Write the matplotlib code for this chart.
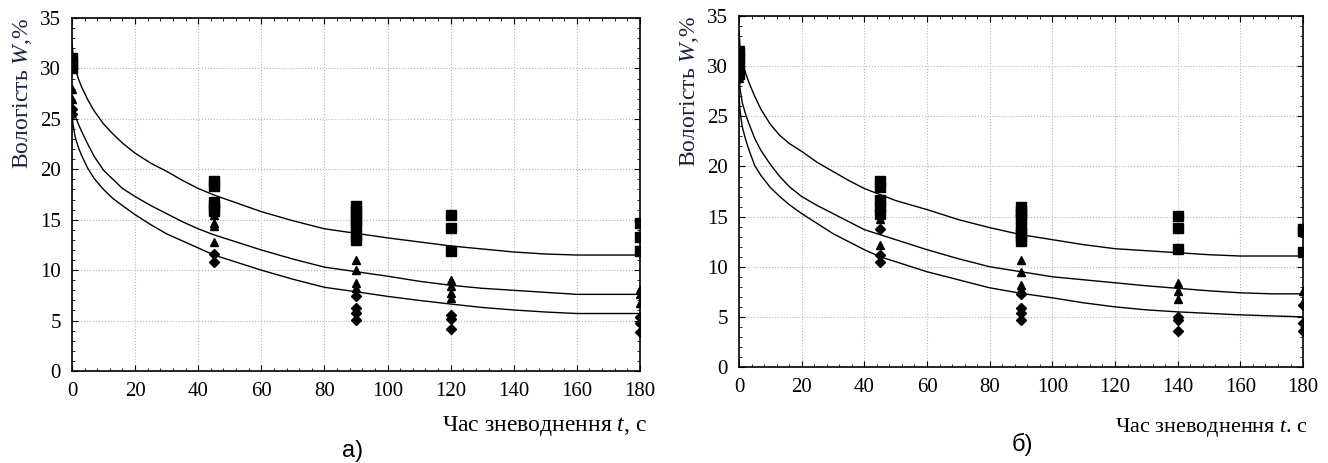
import matplotlib
matplotlib.use("Agg")
import matplotlib.pyplot as plt
from matplotlib.ticker import MultipleLocator

# ---- panel а) ----
a_curve_t = [0, 0.3, 1, 2, 3, 5, 7, 10, 13, 16, 20, 25, 30, 35, 40, 45, 50, 60, 70,
             80, 90, 100, 110, 120, 130, 140, 150, 160, 170, 180]
a_top = [32.5, 31.5, 30.0, 29.0, 28.2, 26.9, 25.8, 24.5, 23.5, 22.6, 21.6, 20.6, 19.8, 18.9,
         18.1, 17.45, 16.9, 15.8, 14.9, 14.1, 13.65, 13.2, 12.8, 12.4, 12.1, 11.8, 11.6, 11.5,
         11.5, 11.5]
a_mid = [27.0, 26.3, 25.3, 24.5, 23.8, 22.5, 21.3, 19.9, 19.0, 18.1, 17.3, 16.4, 15.6, 14.8,
         14.1, 13.5, 13.0, 12.0, 11.1, 10.3, 9.85, 9.4, 8.9, 8.5, 8.2, 8.0, 7.8, 7.6, 7.6, 7.6]
a_bot = [25.5, 24.5, 23.2, 22.2, 21.4, 20.1, 19.1, 18.0, 17.1, 16.4, 15.5, 14.5, 13.6, 12.9,
         12.2, 11.5, 11.0, 10.0, 9.1, 8.3, 7.86, 7.4, 7.0, 6.64, 6.3, 6.05, 5.85, 5.7, 5.7, 5.7]

a_sq_t = [0, 0, 0, 45, 45, 45, 45, 45, 90, 90, 90, 90, 90, 90, 90, 120, 120, 120, 180, 180, 180]
a_sq_w = [30.5, 31.0, 30.0, 18.8, 18.3, 16.8, 16.3, 15.9, 16.4, 15.9, 15.4, 14.9, 14.4, 13.5,
          13.0, 15.5, 14.2, 11.9, 14.7, 13.3, 11.9]
a_tri_t = [0, 0, 45, 45, 45, 45, 90, 90, 90, 90, 120, 120, 120, 120, 180, 180, 180]
a_tri_w = [28.0, 27.0, 15.5, 14.7, 14.4, 12.8, 11.0, 10.0, 8.7, 8.2, 9.0, 8.4, 7.7, 7.2, 8.1,
           7.6, 6.7]
a_dia_t = [0, 0, 45, 45, 90, 90, 90, 90, 120, 120, 120, 180, 180, 180]
a_dia_w = [26.0, 25.5, 11.6, 10.8, 7.4, 6.2, 5.8, 5.1, 5.55, 5.2, 4.2, 5.4, 4.8, 3.9]

# ---- panel б) ----
b_curve_t = a_curve_t
b_top = [33.5, 32.0, 30.4, 29.4, 28.5, 27.0, 25.7, 24.2, 23.1, 22.3, 21.5, 20.4, 19.5, 18.6,
         17.8, 17.2, 16.6, 15.7, 14.7, 13.9, 13.2, 12.7, 12.2, 11.8, 11.6, 11.4, 11.2, 11.07,
         11.07, 11.07]
b_mid = [29.0, 27.8, 26.4, 25.3, 24.4, 22.8, 21.6, 20.2, 19.0, 18.0, 17.0, 16.1, 15.3, 14.5,
         13.7, 13.2, 12.7, 11.7, 10.8, 10.0, 9.5, 9.0, 8.7, 8.4, 8.1, 7.85, 7.6, 7.4, 7.3, 7.3]
b_bot = [27.0, 25.6, 24.0, 22.8, 21.8, 20.1, 19.1, 17.9, 17.0, 16.2, 15.3, 14.3, 13.3, 12.5,
         11.7, 11.0, 10.5, 9.5, 8.7, 7.9, 7.35, 6.9, 6.4, 6.0, 5.7, 5.5, 5.35, 5.2, 5.1, 5.0]

b_sq_t = [0, 0, 0, 0, 45, 45, 45, 45, 45, 90, 90, 90, 90, 90, 90, 90, 90, 140, 140, 140,
          180, 180, 180]
b_sq_w = [31.5, 30.8, 30.0, 29.2, 18.6, 18.0, 16.7, 16.0, 15.3, 16.0, 15.6, 15.2, 14.8, 14.0,
          13.5, 13.0, 12.6, 15.05, 13.9, 11.8, 13.8, 13.6, 11.5]
b_tri_t = [0, 0, 45, 45, 90, 90, 90, 90, 140, 140, 140, 180, 180]
b_tri_w = [29.5, 28.8, 14.8, 12.2, 10.7, 9.5, 8.2, 7.8, 8.35, 7.6, 6.75, 7.6, 6.5]
b_dia_t = [0, 45, 45, 45, 90, 90, 90, 90, 140, 140, 140, 180, 180, 180]
b_dia_w = [28.8, 13.8, 11.2, 10.5, 7.3, 5.85, 5.35, 4.7, 5.0, 4.7, 3.6, 6.2, 4.4, 3.6]

x_ticks = [0, 20, 40, 60, 80, 100, 120, 140, 160, 180]
y_ticks = [0, 5, 10, 15, 20, 25, 30, 35]

plt.rcParams["font.family"] = ["Liberation Serif", "DejaVu Serif"]
plt.rcParams["mathtext.fontset"] = "custom"
plt.rcParams["mathtext.it"] = "Liberation Serif:italic"
plt.rcParams["mathtext.rm"] = "Liberation Serif"


def draw(ax, curve_t, curves, sq, tri, dia):
    for c in curves:
        ax.plot(curve_t, c, color="black", lw=1.0, zorder=3)
    ax.plot(sq[0], sq[1], ls="none", marker="s", ms=7, color="black", zorder=4)
    ax.plot(tri[0], tri[1], ls="none", marker="^", ms=6, color="black", zorder=4)
    ax.plot(dia[0], dia[1], ls="none", marker="D", ms=5, color="black", zorder=4)
    ax.set_xlim(0, 180)
    ax.set_ylim(0, 35)
    ax.set_xticks(x_ticks)
    ax.set_yticks(y_ticks)
    ax.xaxis.set_minor_locator(MultipleLocator(4))
    ax.yaxis.set_minor_locator(MultipleLocator(1))
    ax.tick_params(which="both", direction="in", top=True, right=True,
                   labelsize=15, pad=8)
    ax.tick_params(which="major", length=4)
    ax.tick_params(which="minor", length=2)
    ax.grid(True, which="major", ls=":", color="#b5b5b5", lw=0.8)
    for s in ax.spines.values():
        s.set_linewidth(1.2)
    ax.set_ylabel("Вологість $\\mathit{W}$,%", fontsize=17, color="#1a2440",
                  labelpad=4, loc="top")


fig = plt.figure(figsize=(13.28, 4.63), dpi=100)
ax1 = fig.add_axes([0.0542, 0.1987, 0.4277, 0.7624])
ax2 = fig.add_axes([0.5565, 0.2073, 0.4247, 0.758])

draw(ax1, a_curve_t, [a_top, a_mid, a_bot],
     (a_sq_t, a_sq_w), (a_tri_t, a_tri_w), (a_dia_t, a_dia_w))
draw(ax2, b_curve_t, [b_top, b_mid, b_bot],
     (b_sq_t, b_sq_w), (b_tri_t, b_tri_w), (b_dia_t, b_dia_w))

fig.text(0.487, 0.08, "Час зневоднення $\\mathit{t}$, с", fontsize=17, ha="right", va="center")
fig.text(0.985, 0.076, "Час зневоднення $\\mathit{t}$. с", fontsize=16, ha="right", va="center")
fig.text(0.2575, 0.026, "а)", fontsize=17, va="center", family=["Liberation Sans", "DejaVu Sans"])
fig.text(0.762, 0.041, "б)", fontsize=17, va="center", family=["Liberation Sans", "DejaVu Sans"])

fig.savefig("out.png", dpi=100)
